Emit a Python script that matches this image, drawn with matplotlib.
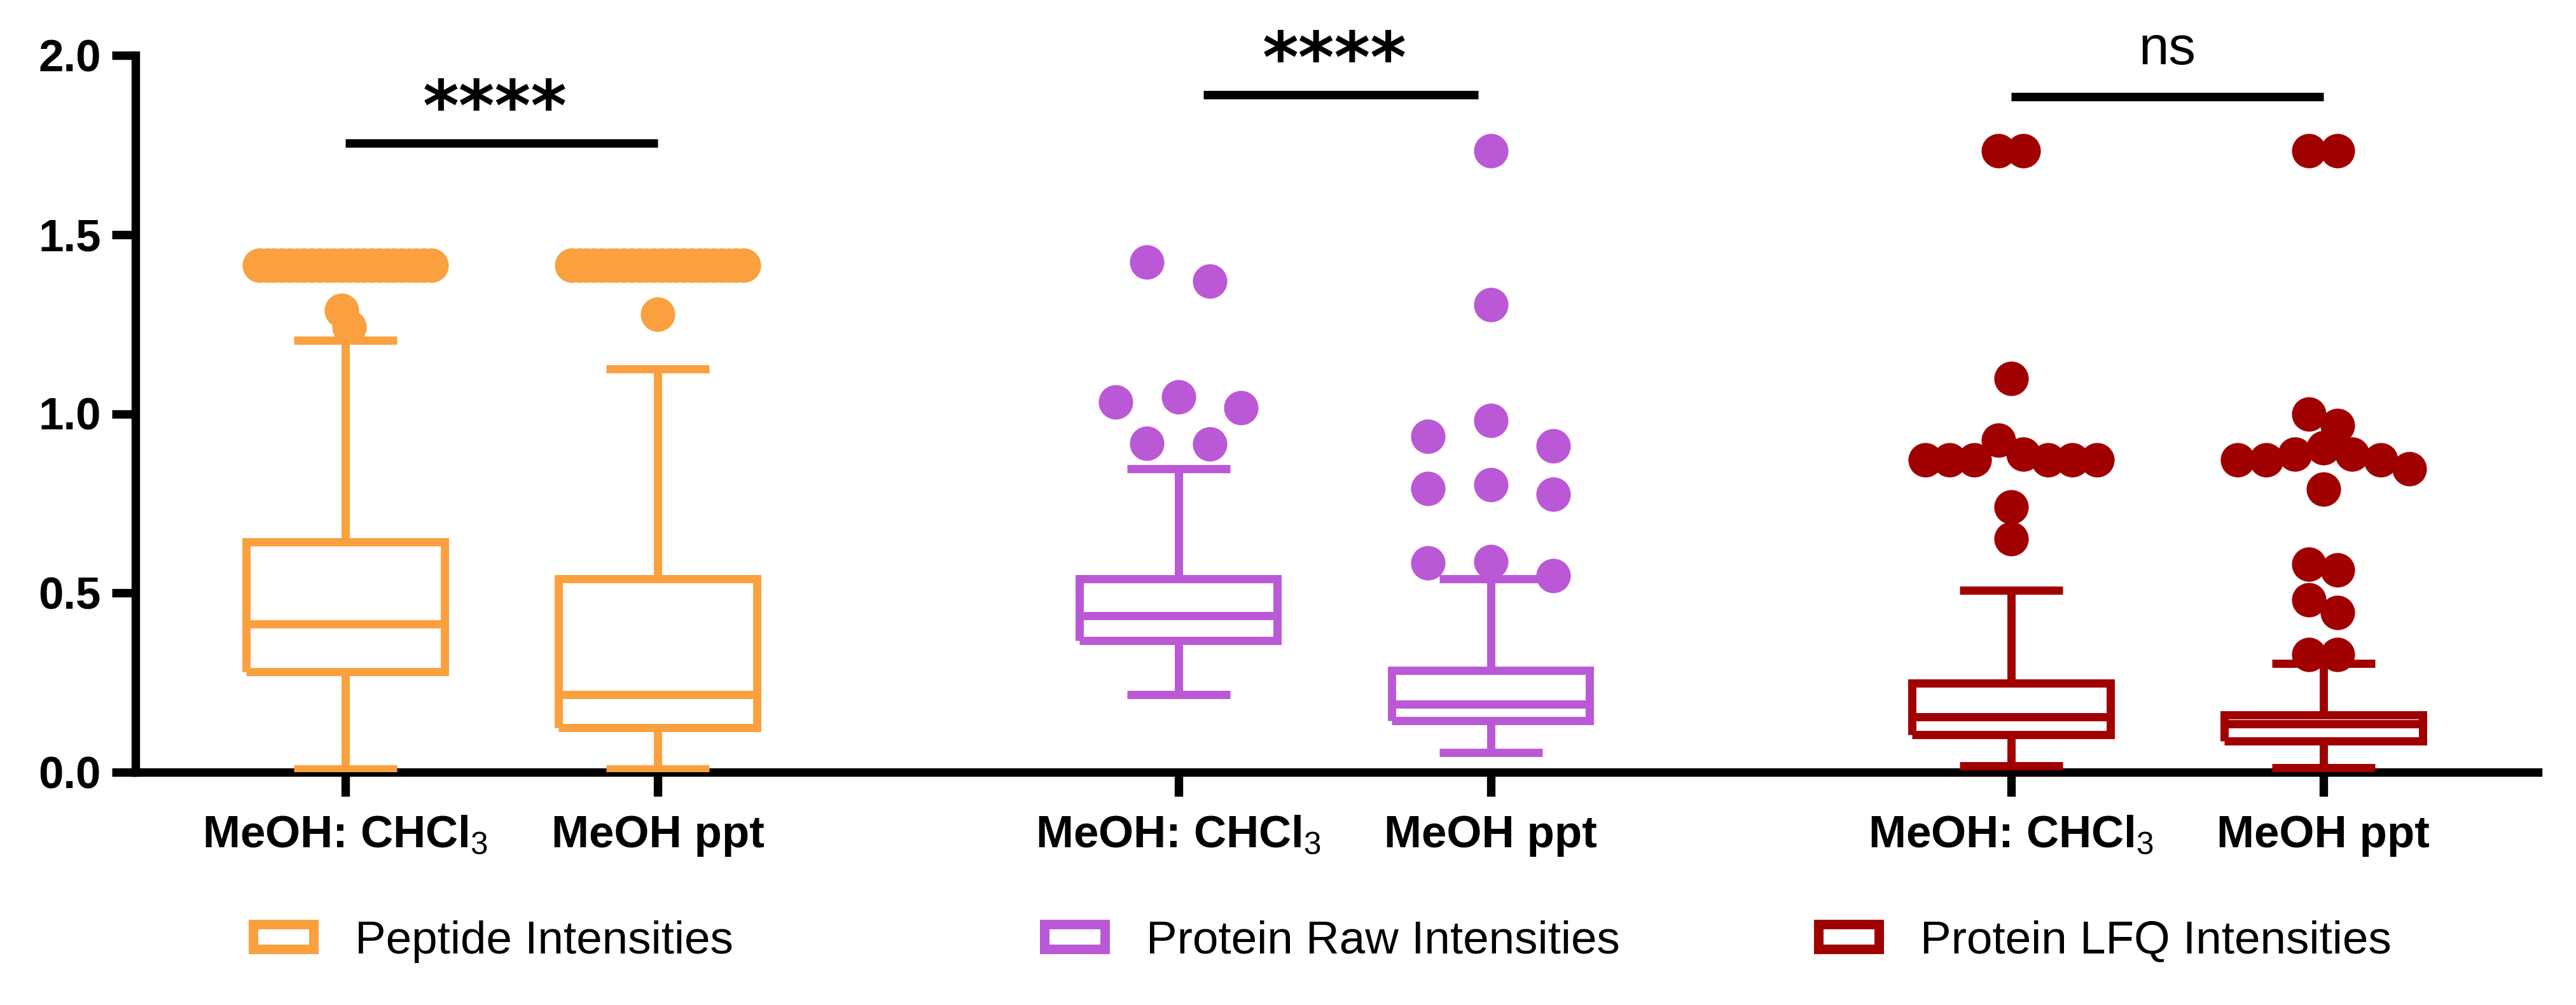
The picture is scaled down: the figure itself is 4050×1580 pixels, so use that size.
import numpy as np
import matplotlib
matplotlib.use('Agg')
import matplotlib.pyplot as plt
from matplotlib.patches import Patch

plt.rcParams['font.family'] = ['Liberation Sans', 'DejaVu Sans']
plt.rcParams['mathtext.fontset'] = 'custom'
plt.rcParams['mathtext.rm'] = 'Liberation Sans'
plt.rcParams['mathtext.it'] = 'Liberation Sans:italic'
plt.rcParams['mathtext.bf'] = 'Liberation Sans:bold'

# ---- data ----
tick_labels = ['MeOH: CHCl$_3$', 'MeOH ppt'] * 3
series = ['Peptide Intensities', 'Protein Raw Intensities', 'Protein LFQ Intensities']

# box stats per sample: whisker low, q1, median, q3, whisker high
whis_lo = [0.009, 0.008, 0.217, 0.055, 0.018, 0.013]
q1 = [0.280, 0.125, 0.367, 0.143, 0.104, 0.087]
med = [0.414, 0.217, 0.437, 0.189, 0.155, 0.134]
q3 = [0.642, 0.540, 0.540, 0.284, 0.249, 0.159]
whis_hi = [1.205, 1.125, 0.847, 0.540, 0.508, 0.303]

pep_chcl3_out = [1.414, 1.414, 1.414, 1.414, 1.414, 1.414, 1.414, 1.414,
                 1.414, 1.414, 1.414, 1.414, 1.414, 1.414, 1.414, 1.414,
                 1.414, 1.414, 1.414, 1.414, 1.414, 1.414, 1.414, 1.414,
                 1.288, 1.243]
pep_ppt_out = [1.414, 1.414, 1.414, 1.414, 1.414, 1.414, 1.414, 1.414,
               1.414, 1.414, 1.414, 1.414, 1.414, 1.414, 1.414, 1.414,
               1.414, 1.414, 1.414, 1.414, 1.414, 1.414, 1.414, 1.414,
               1.277]
raw_chcl3_out = [1.423, 1.370, 1.047, 1.032, 1.016, 0.918, 0.915]
raw_ppt_out = [1.734, 1.304, 0.981, 0.937, 0.910, 0.803, 0.792, 0.776,
               0.587, 0.584, 0.548]
lfq_chcl3_out = [1.734, 1.734, 1.099, 0.926, 0.887, 0.871, 0.871, 0.871,
                 0.871, 0.871, 0.871, 0.740, 0.651]
lfq_ppt_out = [1.734, 1.734, 1.000, 0.968, 0.905, 0.888, 0.888, 0.871,
               0.871, 0.871, 0.847, 0.789, 0.580, 0.564, 0.481, 0.446,
               0.328, 0.328]
outliers = [pep_chcl3_out, pep_ppt_out, raw_chcl3_out, raw_ppt_out,
            lfq_chcl3_out, lfq_ppt_out]

sig_labels = ['****', '****', 'ns']
sig_y = [1.755, 1.890, 1.885]

# ---- style ----
colors = ['#FAA03E', '#BB58D6', '#A00000']
positions = [1, 2, 3.667, 4.667, 6.333, 7.333]
LW = 3.1


def swarm_offsets(vals, h=0.08, wmax=0.55, smax=0.2):
    # rows of nearly equal values, spread sideways around the centre
    vals = np.asarray(vals, dtype=float)
    order = np.argsort(-vals, kind='stable')
    rows, cur, start = [], [], None
    for i in order:
        if cur and vals[i] < start - h:
            rows.append(cur)
            cur = []
        if not cur:
            start = vals[i]
        cur.append(i)
    if cur:
        rows.append(cur)
    nmax = max(len(r) for r in rows)
    s = smax if nmax < 2 else min(smax, wmax / (nmax - 1))
    offs = np.zeros(len(vals))
    for r in rows:
        n = len(r)
        slots = sorted((np.arange(n) - (n - 1) / 2) * s, key=lambda v: (round(abs(v), 6), v))
        for i, o in zip(r, slots):
            offs[i] = o
    return offs


fig = plt.figure(figsize=(13.5, 1580 / 300), dpi=300)
ax = fig.add_axes([213 / 4050, 1 - 1214 / 1580, (3990 - 213) / 4050, (1214 - 87) / 1580])

stats = []
for i in range(6):
    stats.append(dict(whislo=whis_lo[i], q1=q1[i], med=med[i], q3=q3[i],
                      whishi=whis_hi[i], fliers=[]))

for i in range(6):
    c = colors[i // 2]
    line = dict(color=c, linewidth=LW, solid_joinstyle='miter', solid_capstyle='butt')
    ax.bxp([stats[i]], positions=[positions[i]], widths=0.635, capwidths=0.33,
           showfliers=False, manage_ticks=False, zorder=3,
           boxprops=line, medianprops=line, whiskerprops=line, capprops=line)
    off = swarm_offsets(outliers[i])
    ax.scatter(positions[i] + off, outliers[i], s=13 ** 2, color=c,
               linewidths=0, zorder=4, clip_on=False)

# significance bars
for k in range(3):
    x1, x2 = positions[2 * k], positions[2 * k + 1]
    if k == 1:
        x1, x2 = x1 + 0.08, x2 - 0.04
    ax.plot([x1, x2], [sig_y[k], sig_y[k]], color='black', lw=3.2,
            solid_capstyle='butt', clip_on=False, zorder=5)
    xm = (x1 + x2) / 2
    if sig_labels[k] == 'ns':
        ax.text(xm, sig_y[k] + 0.09, sig_labels[k], ha='center', va='baseline',
                fontsize=20.5, clip_on=False)
    else:
        ax.text(xm - 0.02, sig_y[k] + 0.09, sig_labels[k], ha='center', va='center',
                fontsize=26, fontweight='bold', family='DejaVu Sans', clip_on=False)

ax.set_xlim(0.328, 8.02)
ax.set_ylim(0, 2)
ax.set_yticks([0, 0.5, 1.0, 1.5, 2.0])
ax.set_yticklabels(['0.0', '0.5', '1.0', '1.5', '2.0'])
ax.set_xticks(positions)
ax.set_xticklabels(tick_labels)
for s in ['top', 'right']:
    ax.spines[s].set_visible(False)
for s in ['left', 'bottom']:
    ax.spines[s].set_linewidth(3.2)
    ax.spines[s].set_capstyle('projecting')
ax.tick_params(axis='both', width=3.2, length=9, labelsize=17, color='black')
ax.tick_params(axis='y', pad=4)
ax.tick_params(axis='x', pad=7)
for lab in ax.get_xticklabels() + ax.get_yticklabels():
    lab.set_fontweight('bold')

# legend, one slot per series
leg_x = [398, 1642, 2859]
for k in range(3):
    h = Patch(facecolor='white', edgecolor=colors[k], linewidth=3.6,
              joinstyle='miter', label=series[k])
    fig.legend(handles=[h], loc='center left',
               bbox_to_anchor=(leg_x[k] / 4050, 1 - 1480 / 1580),
               frameon=False, fontsize=17.5, handlelength=1.3, handleheight=0.45,
               handletextpad=0.9, borderpad=0, borderaxespad=0)

fig.savefig('out.png', dpi=300)
